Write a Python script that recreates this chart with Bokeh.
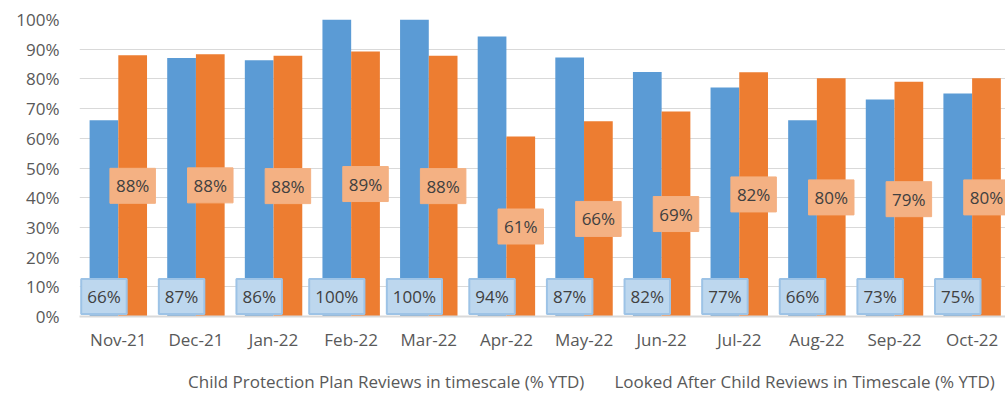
from bokeh.plotting import figure
from bokeh.layouts import column
from bokeh.models import ColumnDataSource, Range1d, Legend, LegendItem, FixedTicker
from bokeh.core.properties import value
from bokeh.embed import file_html
from bokeh.resources import INLINE

months = ["Nov-21", "Dec-21", "Jan-22", "Feb-22", "Mar-22", "Apr-22",
          "May-22", "Jun-22", "Jul-22", "Aug-22", "Sep-22", "Oct-22"]
cp_reviews = [66.1, 87.0, 86.3, 100.0, 100.0, 94.3, 87.2, 82.3, 77.1, 66.1, 73.1, 75.1]
la_reviews = [88.0, 88.3, 87.8, 89.2, 87.8, 60.6, 65.7, 69.0, 82.2, 80.2, 79.0, 80.2]
y_ticks = [0, 10, 20, 30, 40, 50, 60, 70, 80, 90, 100]
y_tick_labels = ["0%", "10%", "20%", "30%", "40%", "50%", "60%", "70%", "80%", "90%", "100%"]
series_names = ["Child Protection Plan Reviews in timescale (% YTD)",
                "Looked After Child Reviews in Timescale (% YTD)"]

FONT = "Open Sans"
BLUE = "#5B9BD5"
ORANGE = "#ED7D31"
TXT = "#404040"

idx = list(range(len(months)))
off = 0.185
bw = 0.37

src = ColumnDataSource(dict(
    xb=[i - off for i in idx],
    xo=[i + off for i in idx],
    cp=cp_reviews,
    la=la_reviews,
    la_half=[v / 2 for v in la_reviews],
    cp_base=[6.7 for _ in idx],
    cp_lbl=["%d%%" % round(v) for v in cp_reviews],
    la_lbl=["%d%%" % round(v) for v in la_reviews],
))

p = figure(frame_width=926, frame_height=297, output_backend="svg", toolbar_location=None,
           x_range=Range1d(-0.5, 11.43), y_range=Range1d(0, 100),
           min_border_left=79, min_border_right=0, min_border_top=19, min_border_bottom=50)
p.outline_line_color = None
p.background_fill_color = "white"
p.border_fill_color = "white"

rb = p.vbar(x="xb", top="cp", width=bw, bottom=0, source=src, fill_color=BLUE, line_color=None)
ro = p.vbar(x="xo", top="la", width=bw, bottom=0, source=src, fill_color=ORANGE, line_color=None)

p.text(x="xb", y="cp_base", text="cp_lbl", source=src, text_align="center",
       text_baseline="middle", text_font=value(FONT), text_font_size="17px", text_color=TXT,
       background_fill_color="#BDD7EE", border_line_color="#9DC3E6", border_line_width=2,
       padding=6)
p.text(x="xo", y="la_half", text="la_lbl", source=src, text_align="center",
       text_baseline="middle", text_font=value(FONT), text_font_size="17px", text_color=TXT,
       background_fill_color="#F4B183", border_line_color="#F4B183", padding=6)

# axes
p.xaxis.ticker = FixedTicker(ticks=idx)
p.xaxis.major_label_overrides = {i: m for i, m in enumerate(months)}
p.xaxis.major_tick_line_color = None
p.xaxis.minor_tick_line_color = None
p.xaxis.major_tick_out = 0
p.xaxis.minor_tick_out = 0
p.xaxis.axis_line_color = "#D9D9D9"
p.xaxis.axis_line_width = 2
p.xaxis.major_label_text_font = FONT
p.xaxis.major_label_text_font_size = "17px"
p.xaxis.major_label_text_color = "#595959"
p.xaxis.major_label_standoff = 11

p.yaxis.ticker = FixedTicker(ticks=y_ticks)
p.yaxis.major_label_overrides = {t: l for t, l in zip(y_ticks, y_tick_labels)}
p.yaxis.major_tick_line_color = None
p.yaxis.minor_tick_line_color = None
p.yaxis.axis_line_color = None
p.yaxis.major_label_text_font = FONT
p.yaxis.major_label_text_font_size = "17px"
p.yaxis.major_label_text_color = "#595959"
p.yaxis.major_label_standoff = 14

p.xgrid.grid_line_color = None
p.ygrid.grid_line_color = "#D9D9D9"
p.ygrid.grid_line_width = 1

# legend strip below the chart
lf = figure(width=1005, height=29, output_backend="svg", toolbar_location=None,
            x_range=Range1d(0, 1), y_range=Range1d(0, 1),
            min_border_left=0, min_border_right=0, min_border_top=0, min_border_bottom=0)
lf.axis.visible = False
lf.grid.visible = False
lf.outline_line_color = None
lf.border_fill_color = "white"
lb_b = lf.vbar(x=[], top=[], width=0.1, fill_color=BLUE, line_color=None)
lb_o = lf.vbar(x=[], top=[], width=0.1, fill_color=ORANGE, line_color=None)
legend = Legend(items=[LegendItem(label=series_names[0], renderers=[lb_b]),
                       LegendItem(label=series_names[1], renderers=[lb_o])],
                orientation="horizontal", location=(95, 2),
                label_text_font=FONT, label_text_font_size="17px", label_text_color="#595959",
                glyph_width=10, glyph_height=10, spacing=16, label_standoff=4, label_height=20,
                border_line_color=None, background_fill_alpha=0, margin=0, padding=0)
lf.add_layout(legend)

layout = column(p, lf, spacing=0)
open("out.html", "w").write(file_html(layout, INLINE))
